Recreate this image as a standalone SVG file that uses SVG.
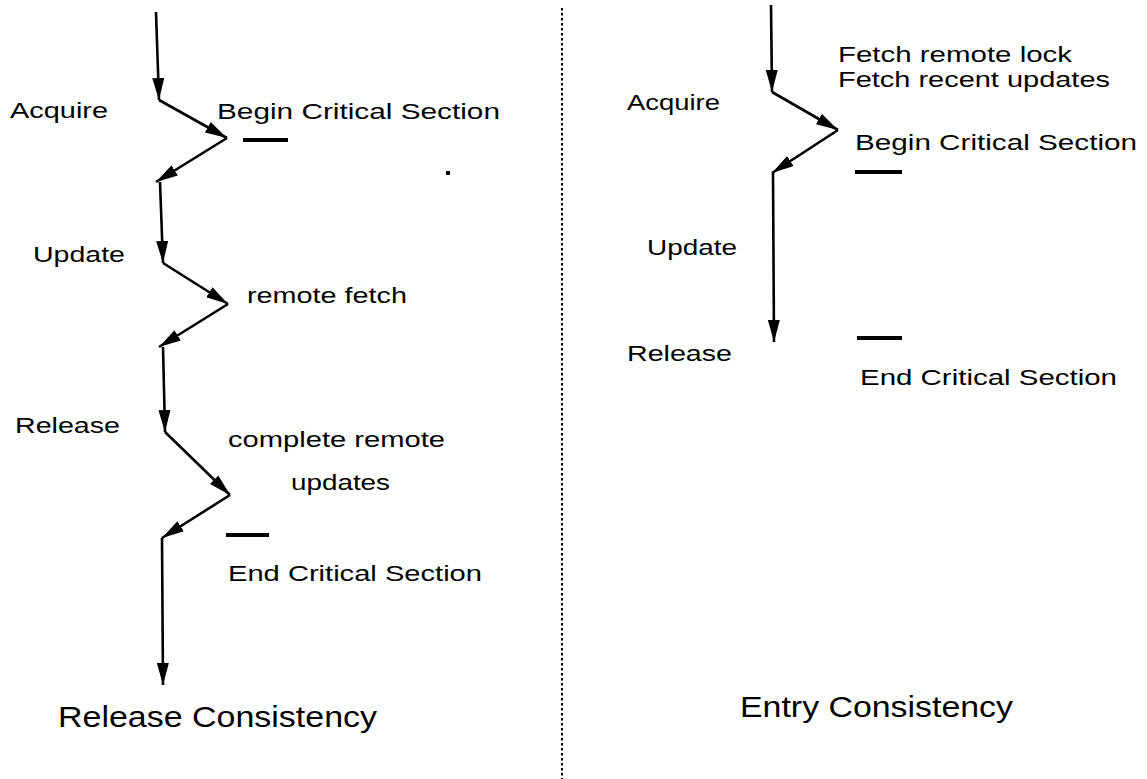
<svg xmlns="http://www.w3.org/2000/svg" width="1147" height="779" viewBox="0 0 1147 779">
<style>
text{font-family:"Liberation Sans",Arial,sans-serif;font-size:22px;fill:#000}
.title{font-size:29px}
.flow{stroke:#000;stroke-width:2.6;fill:none;marker-end:url(#ah)}
.bar{stroke:#000;stroke-width:4}
.divider{stroke:#000;stroke-width:2;stroke-dasharray:2.5 2.5}
</style>
<defs>
<marker id="ah" markerUnits="userSpaceOnUse" markerWidth="24" markerHeight="13" refX="22" refY="6" orient="auto">
<path d="M0,0 L22,6 L0,12 z" fill="#000"/>
</marker>
</defs>
<rect width="1147" height="779" fill="#fff"/>
<g id="connectors">
<line x1="156" y1="12" x2="159" y2="100" class="flow"/>
<line x1="159" y1="100" x2="227" y2="138" class="flow"/>
<line x1="227" y1="138" x2="156" y2="182" class="flow"/>
<line x1="160" y1="182" x2="163" y2="263" class="flow"/>
<line x1="163" y1="263" x2="228" y2="304" class="flow"/>
<line x1="228" y1="304" x2="159" y2="347" class="flow"/>
<line x1="163" y1="347" x2="165" y2="432" class="flow"/>
<line x1="165" y1="432" x2="230" y2="495" class="flow"/>
<line x1="230" y1="495" x2="162" y2="538" class="flow"/>
<line x1="162" y1="538" x2="163" y2="685" class="flow"/>
<line x1="771" y1="5" x2="772" y2="92" class="flow"/>
<line x1="772" y1="92" x2="838" y2="130" class="flow"/>
<line x1="838" y1="130" x2="772" y2="173" class="flow"/>
<line x1="773" y1="173" x2="774" y2="342" class="flow"/>
</g>
<g id="divider"><line x1="562" y1="8" x2="562" y2="779" class="divider"/></g>
<g id="release-consistency">
<text x="10" y="118" textLength="98" lengthAdjust="spacingAndGlyphs">Acquire</text>
<text x="217" y="119" textLength="283" lengthAdjust="spacingAndGlyphs">Begin Critical Section</text>
<line x1="243" y1="140" x2="288" y2="140" class="bar"/>
<text x="33" y="262" textLength="92" lengthAdjust="spacingAndGlyphs">Update</text>
<text x="247" y="303" textLength="160" lengthAdjust="spacingAndGlyphs">remote fetch</text>
<text x="15" y="433" textLength="105" lengthAdjust="spacingAndGlyphs">Release</text>
<text x="228" y="447" textLength="217" lengthAdjust="spacingAndGlyphs">complete remote</text>
<text x="291" y="490" textLength="99" lengthAdjust="spacingAndGlyphs">updates</text>
<line x1="226" y1="535" x2="269" y2="535" class="bar"/>
<text x="228" y="581" textLength="254" lengthAdjust="spacingAndGlyphs">End Critical Section</text>
<text x="58" y="727" class="title" textLength="319" lengthAdjust="spacingAndGlyphs">Release Consistency</text>
<rect x="446" y="171" width="4" height="4" fill="#000"/>
</g>
<g id="entry-consistency">
<text x="838" y="62" textLength="234" lengthAdjust="spacingAndGlyphs">Fetch remote lock</text>
<text x="838" y="87" textLength="272" lengthAdjust="spacingAndGlyphs">Fetch recent updates</text>
<text x="627" y="110" textLength="93" lengthAdjust="spacingAndGlyphs">Acquire</text>
<text x="855" y="150" textLength="282" lengthAdjust="spacingAndGlyphs">Begin Critical Section</text>
<line x1="855" y1="172" x2="902" y2="172" class="bar"/>
<text x="647" y="255" textLength="90" lengthAdjust="spacingAndGlyphs">Update</text>
<text x="627" y="361" textLength="105" lengthAdjust="spacingAndGlyphs">Release</text>
<line x1="857" y1="338" x2="902" y2="338" class="bar"/>
<text x="860" y="385" textLength="257" lengthAdjust="spacingAndGlyphs">End Critical Section</text>
<text x="740" y="717" class="title" textLength="273" lengthAdjust="spacingAndGlyphs">Entry Consistency</text>
</g>
</svg>
